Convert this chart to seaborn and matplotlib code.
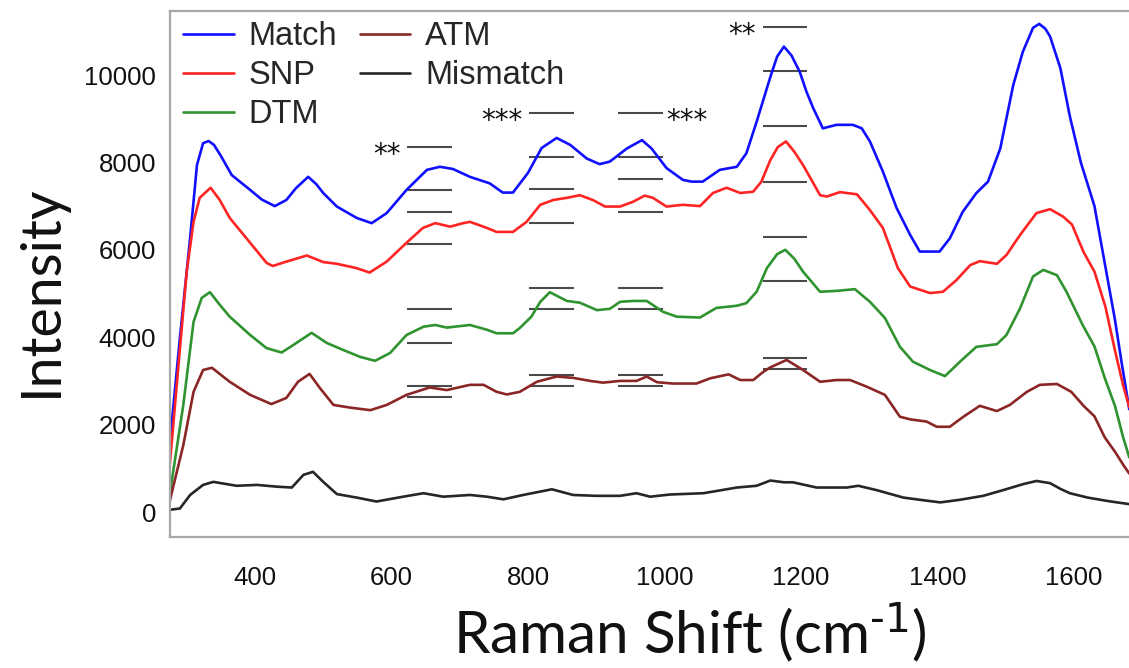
import matplotlib
matplotlib.use("Agg")
import matplotlib.pyplot as plt
import numpy as np
import pandas as pd
import seaborn as sns

# ---- spectra (Raman shift in cm-1, intensity in counts) ----
match_x = [275, 290, 305, 315, 324, 332, 340, 350, 366, 393, 410, 429, 446, 460, 478, 490,
           500, 520, 549, 571, 593, 622, 652, 671, 690, 715, 744, 763, 778, 800, 820, 842,
           862, 886, 905, 920, 945, 967, 981, 1003, 1027, 1040, 1056, 1081, 1106, 1120, 1135,
           1155, 1165, 1175, 1186, 1198, 1208, 1218, 1232, 1252, 1276, 1289, 1301, 1320, 1340,
           1360, 1374, 1403, 1418, 1437, 1457, 1474, 1492, 1511, 1525, 1540, 1549, 1558, 1565,
           1580, 1594, 1610, 1630, 1645, 1660, 1670, 1681]
match_y = [1530, 3980, 6270, 7940, 8440, 8490, 8400, 8150, 7710, 7370, 7150, 7000, 7140, 7410,
           7670, 7500, 7300, 6990, 6730, 6610, 6840, 7370, 7830, 7900, 7850, 7670, 7520, 7310,
           7310, 7760, 8330, 8560, 8400, 8090, 7960, 8020, 8320, 8510, 8320, 7870, 7600, 7560,
           7560, 7830, 7900, 8210, 8930, 9950, 10420, 10650, 10450, 10080, 9620, 9240, 8780,
           8860, 8860, 8780, 8480, 7790, 6960, 6340, 5960, 5960, 6260, 6870, 7300, 7560, 8320,
           9770, 10530, 11080, 11170, 11060, 10880, 10160, 9050, 8000, 7000, 5700, 4400, 3400,
           2350]

snp_x = [275, 285, 300, 310, 319, 335, 348, 363, 393, 417, 426, 446, 476, 500, 520, 549, 568,
         593, 622, 646, 664, 686, 705, 715, 740, 754, 778, 798, 818, 837, 857, 876, 895, 913,
         935, 954, 971, 983, 1003, 1027, 1052, 1071, 1091, 1111, 1130, 1142, 1155, 1166, 1178,
         1190, 1203, 1228, 1238, 1257, 1282, 1301, 1320, 1342, 1360, 1389, 1408, 1428, 1448,
         1462, 1487, 1501, 1521, 1545, 1565, 1584, 1597, 1614, 1630, 1646, 1660, 1672, 1681]
snp_y = [1040, 2840, 5500, 6640, 7190, 7420, 7150, 6730, 6160, 5700, 5630, 5730, 5870, 5720,
         5680, 5580, 5480, 5730, 6160, 6500, 6610, 6530, 6610, 6640, 6500, 6410, 6410, 6640,
         7030, 7140, 7190, 7250, 7140, 6990, 6990, 7100, 7240, 7190, 6990, 7030, 7000, 7300,
         7420, 7300, 7330, 7560, 8050, 8350, 8480, 8250, 7940, 7250, 7220, 7320, 7270, 6910,
         6500, 5580, 5160, 5010, 5040, 5310, 5650, 5740, 5680, 5880, 6340, 6840, 6930, 6760,
         6580, 5950, 5500, 4700, 3700, 2900, 2400]

dtm_x = [275, 295, 310, 322, 334, 348, 363, 393, 417, 439, 456, 483, 505, 529, 554, 576, 598,
         622, 647, 664, 681, 715, 740, 754, 778, 788, 805, 818, 832, 857, 876, 901, 920, 935,
         954, 974, 998, 1018, 1052, 1076, 1106, 1120, 1135, 1150, 1165, 1177, 1190, 1203, 1228,
         1252, 1279, 1301, 1323, 1345, 1364, 1389, 1411, 1433, 1457, 1487, 1501, 1521, 1540,
         1555, 1575, 1589, 1613, 1630, 1645, 1660, 1672, 1681]
dtm_y = [390, 2450, 4350, 4900, 5030, 4750, 4470, 4050, 3750, 3650, 3820, 4100, 3870, 3710,
         3550, 3460, 3640, 4050, 4240, 4280, 4220, 4280, 4170, 4090, 4090, 4210, 4470, 4810,
         5030, 4830, 4790, 4620, 4650, 4810, 4830, 4830, 4580, 4470, 4450, 4670, 4720, 4780,
         5040, 5580, 5900, 6000, 5800, 5500, 5040, 5060, 5100, 4810, 4440, 3780, 3440, 3250,
         3110, 3440, 3780, 3840, 4050, 4660, 5390, 5540, 5420, 5040, 4270, 3790, 3070, 2430,
         1710, 1250]

atm_x = [275, 295, 310, 324, 337, 363, 393, 424, 446, 463, 480, 495, 515, 539, 569, 593, 622,
         656, 681, 715, 735, 754, 769, 788, 813, 842, 866, 891, 910, 935, 959, 974, 989, 1012,
         1047, 1067, 1094, 1111, 1130, 1145, 1155, 1179, 1203, 1228, 1252, 1272, 1296, 1323,
         1345, 1360, 1384, 1399, 1418, 1438, 1462, 1487, 1506, 1531, 1550, 1575, 1596, 1614,
         1630, 1645, 1660, 1673, 1681]
atm_y = [240, 1530, 2750, 3250, 3300, 2980, 2680, 2470, 2610, 2980, 3160, 2840, 2450, 2390,
         2330, 2450, 2680, 2850, 2790, 2910, 2910, 2750, 2690, 2750, 2980, 3100, 3070, 3000,
         2960, 3000, 3000, 3100, 2970, 2940, 2940, 3060, 3150, 3020, 3020, 3210, 3310, 3480,
         3250, 2980, 3020, 3020, 2870, 2680, 2180, 2120, 2070, 1950, 1950, 2180, 2430, 2310,
         2450, 2750, 2910, 2930, 2750, 2430, 2190, 1710, 1380, 1060, 880]

mismatch_x = [275, 290, 305, 324, 339, 373, 403, 432, 454, 471, 485, 500, 520, 549, 578, 617,
              647, 676, 715, 740, 764, 793, 835, 866, 900, 935, 959, 979, 1008, 1057, 1106,
              1135, 1155, 1175, 1188, 1223, 1267, 1284, 1311, 1350, 1374, 1404, 1433, 1467,
              1496, 1526, 1545, 1565, 1580, 1594, 1620, 1650, 1681]
mismatch_y = [50, 80, 390, 620, 690, 600, 620, 580, 560, 850, 920, 690, 410, 330, 240, 350,
              430, 350, 390, 350, 290, 390, 520, 390, 370, 370, 430, 350, 400, 430, 560, 600,
              720, 680, 680, 560, 560, 600, 500, 330, 280, 220, 280, 370, 500, 640, 710, 660,
              530, 430, 330, 250, 180]

samples = ["Match", "SNP", "DTM", "ATM", "Mismatch"]
colors = ["#1010ff", "#ff2424", "#2f932f", "#8b2626", "#262626"]

# ---- significance bars: x-span, one bar per level, star label ----
bar_lo = [623, 802, 932, 1144]
bar_hi = [688, 868, 998, 1209]
bar_levels = [
    [8360, 7370, 6870, 6125, 4640, 3875, 2890, 2640],
    [9120, 8115, 7385, 6620, 5135, 4640, 3135, 2890],
    [9120, 8115, 7620, 6870, 5135, 4640, 3135, 2890],
    [11105, 10090, 8835, 7560, 6300, 5285, 3530, 3270],
]
bar_stars = ["**", "***", "***", "**"]
bar_star_side = ["left", "left", "right", "left"]

xticks = [400, 600, 800, 1000, 1200, 1400, 1600]
yticks = [0, 2000, 4000, 6000, 8000, 10000]

series = {"Match": (match_x, match_y), "SNP": (snp_x, snp_y), "DTM": (dtm_x, dtm_y),
          "ATM": (atm_x, atm_y), "Mismatch": (mismatch_x, mismatch_y)}
df = pd.concat(
    [pd.DataFrame({"shift": xs, "intensity": ys, "sample": name})
     for name, (xs, ys) in series.items()],
    ignore_index=True,
)

sns.set_theme(style="white")
plt.rcParams["font.family"] = ["Liberation Sans", "DejaVu Sans"]
plt.rcParams["mathtext.default"] = "regular"

fig = plt.figure(figsize=(11.29, 6.68), dpi=100)
ax = fig.add_axes([0.15057, 0.19611, 0.84943, 0.78742])

sns.lineplot(data=df, x="shift", y="intensity", hue="sample", hue_order=samples,
             palette=dict(zip(samples, colors)), estimator=None, sort=False,
             linewidth=1.9, ax=ax)
for line in ax.get_lines():
    line.set_solid_joinstyle("round")

for lo, hi, levels, stars, side in zip(bar_lo, bar_hi, bar_levels, bar_stars, bar_star_side):
    ax.hlines(levels, lo, hi, color="#4a4a4a", linewidth=1.5, zorder=1)
    top = max(levels)
    if side == "left":
        ax.annotate(stars, xy=(lo, top), xytext=(-5, -11.5), textcoords="offset points",
                    ha="right", va="baseline", fontsize=20, family="DejaVu Sans",
                    color="#111111")
    else:
        ax.annotate(stars, xy=(hi, top), xytext=(2, -11.5), textcoords="offset points",
                    ha="left", va="baseline", fontsize=20, family="DejaVu Sans",
                    color="#111111")

ax.set_xlim(275.5, 1680.6)
ax.set_ylim(-572, 11465)
ax.set_xticks(xticks)
ax.set_yticks(yticks)
ax.set_xticklabels([str(v) for v in xticks])
ax.set_yticklabels([str(v) for v in yticks])
ax.tick_params(axis="both", length=0, labelsize=18.5, colors="#111111")
ax.tick_params(axis="x", pad=21)
ax.tick_params(axis="y", pad=10)

for side in ["top", "left", "bottom"]:
    ax.spines[side].set_color("#a8a8a8")
    ax.spines[side].set_linewidth(1.6)
ax.spines["right"].set_visible(False)

ax.set_xlabel(r"Raman Shift (cm$^{\text{-1}}$)", fontsize=42, family="Lato", color="#111111")
ax.set_ylabel("Intensity", fontsize=40, family="Lato", color="#111111")
ax.xaxis.label.set_va("center")
ax.yaxis.label.set_va("center")
ax.xaxis.set_label_coords(0.542, -0.181)
ax.yaxis.set_label_coords(-0.1345, 0.4676)

handles, labels = ax.get_legend_handles_labels()
ax.legend(handles, labels, loc="upper left", bbox_to_anchor=(0.0136, 0.981),
          borderaxespad=0, borderpad=0, frameon=False, ncol=2, fontsize=23.5,
          handlelength=1.55, handletextpad=0.45, columnspacing=0.7, labelspacing=0.25)

fig.savefig("out.png", dpi=100, facecolor="white")
